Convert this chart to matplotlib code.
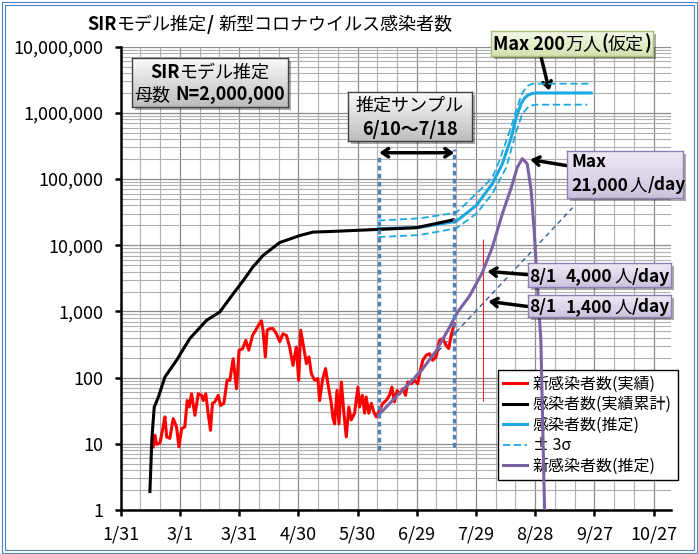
import matplotlib
matplotlib.use("Agg")
import matplotlib.pyplot as plt
import numpy as np
from matplotlib.colors import LinearSegmentedColormap
from matplotlib.patches import Rectangle
from matplotlib.ticker import FuncFormatter, FixedLocator, LogLocator, NullFormatter

plt.rcParams['font.family'] = ['Noto Sans CJK JP', 'DejaVu Sans']

W, H = 698, 554

# x values are days counted from 1/31
tick_days = [0, 30, 60, 90, 120, 150, 180, 210, 240, 270]
tick_labels = ["1/31", "3/1", "3/31", "4/30", "5/30", "6/29", "7/29", "8/28", "9/27", "10/27"]
y_ticks = [1, 10, 100, 1000, 10000, 100000, 1000000, 10000000]

# 新感染者数(実績)
new_act_day = [16.5, 17.3, 18.2, 19.9, 21.5, 22.4, 23.3, 24.9, 26.6, 28.3, 29.5, 30.9, 32.5, 33.7,
               34.7, 35.9, 37.6, 39.3, 41.0, 41.8, 43.1, 44.3, 45.5, 46.5, 47.7, 49.4, 50.6, 52.3,
               53.9, 55.3, 57.0, 58.7, 60.0, 61.7, 63.4, 64.9, 66.8, 68.4, 69.8, 71.3, 72.1, 73.3,
               74.2, 75.5, 77.2, 78.9, 80.6, 82.2, 84.0, 85.6, 87.3, 89.0, 90.2, 91.2, 92.7, 94.1,
               95.4, 96.6, 98.3, 99.9, 100.8, 102.2, 103.8, 105.0, 106.7, 107.5, 108.4, 109.6, 110.6,
               111.8, 113.1, 114.3, 115.6, 116.8, 118.5, 120.2, 121.0, 122.4, 123.6, 124.4, 125.7,
               127.0, 128.3, 129.5, 131.2, 132.8, 134.5, 136.2, 137.4, 138.7, 140.1, 141.3, 143.0,
               144.3, 145.5, 147.2, 148.9, 150.5, 151.9, 153.1, 154.8, 156.5, 158.1, 159.8, 161.5,
               163.2, 164.9, 166.2, 167.4, 169.1]
new_act = [9, 13.5, 9.8, 10.3, 18, 25.5, 12.7, 12.1, 24, 18, 9, 17, 18, 45,
           36, 57, 27, 57, 54, 45, 57, 29, 16, 41, 43, 54, 38, 41,
           91, 91, 193, 68, 260, 272, 366, 260, 434, 520, 620, 720, 520, 205,
           520, 550, 550, 460, 350, 460, 434, 290, 153, 290, 91, 520, 290, 163,
           205, 115, 91, 97, 45, 91, 137, 81, 41, 25.5, 20, 64, 20,
           86, 29, 12.7, 36, 23, 29, 72, 36, 54, 29, 51, 29,
           41, 30, 25.5, 32, 41, 45, 54, 72, 43, 64, 57, 68,
           54, 86, 81, 91, 81, 130, 183, 218, 230, 183, 205, 366,
           388, 308, 275, 434, 655]

# 感染者数(実績累計)
cum_act_day = [14.8, 15.8, 16.5, 17.0, 19.0, 22.4, 28.3, 35.0, 43.5, 50.2, 57.0, 62.0, 67.0,
               72.1, 80.6, 90.7, 97.4, 107.5, 129.5, 149.7, 166.6, 168.5]
cum_act = [1.9, 12, 23, 36, 50, 102, 183, 389, 735, 980, 1850, 2900, 4700,
           7000, 11000, 14000, 15800, 16200, 17300, 18400, 23500, 24300]

# 感染者数(推定)
est_day = [130.5, 151.4, 170.0, 180.2, 188.3, 193.4, 197.9, 200.4, 203.0, 204.5, 206.0, 208.0, 210.6, 238.4]
est = [17800, 18600, 23000, 40000, 85000, 170000, 425000, 850000, 1400000, 1650000, 1820000,
       1950000, 2000000, 2000000]

# ±3σ
hi_day = [130.5, 151.4, 170.0, 180.2, 188.3, 191.9, 198.4, 201.0, 203.5, 206.0, 208.6, 238.4]
hi = [23600, 25500, 31000, 60000, 105000, 190000, 690000, 1250000, 2000000, 2550000, 2760000, 2760000]
lo_day = [130.5, 151.4, 170.0, 180.2, 188.3, 195.4, 200.4, 203.5, 207.0, 210.6, 236.4]
lo = [13300, 14300, 18000, 30000, 60000, 150000, 520000, 970000, 1280000, 1330000, 1330000]

# 新感染者数(推定)
new_est_day = [130.5, 141.3, 151.4, 160.0, 166.6, 170.6, 176.7, 183.3, 188.3, 193.4, 197.9,
               200.9, 203.5, 206.0, 208.0, 209.5, 211.0, 212.9, 215.0]
new_est = [27, 58, 117, 258, 575, 970, 1700, 3900, 9300, 30000, 74000,
           149000, 204000, 170000, 67000, 16700, 2960, 366, 0.5]

# exponential trend (thin dashed)
fit_day = [130.5, 229.0]
fit = [27, 37000]

sample_days = [131, 169]          # 6/10, 7/18
sample_lo = [8, 9]
sample_hi = [240000, 280000]
aug1 = 183.5                      # 8/1 marker


def fx(x):
    return x / W


def fy(y):
    return 1 - y / H


fig = plt.figure(figsize=(W / 100, H / 100), dpi=100)
ax = fig.add_axes([fx(120.7), fy(510), (671.3 - 120.7) / W, (510 - 46.7) / H])

ax.set_yscale('log')
ax.set_ylim(1, 1e7)
ax.set_xlim(0, 279)

ax.set_xticks(tick_days)
ax.set_xticklabels(tick_labels)
ax.set_xticks(np.arange(0, 280, 10), minor=True)
ax.yaxis.set_major_locator(FixedLocator(y_ticks))
ax.yaxis.set_minor_locator(LogLocator(base=10, subs=np.arange(2, 10), numticks=20))
ax.yaxis.set_major_formatter(FuncFormatter(lambda v, p: f"{int(round(v)):,}"))
ax.yaxis.set_minor_formatter(NullFormatter())

ax.grid(which='major', color='#8c8c8c', lw=0.9)
ax.grid(which='minor', color='#b0b0b0', lw=0.8)
ax.set_axisbelow(True)
ax.tick_params(which='major', direction='out', length=4.5, width=1.8, labelsize=13, pad=8)
ax.tick_params(axis='x', which='major', pad=7)
ax.tick_params(which='minor', length=0)
for s in ['top', 'right']:
    ax.spines[s].set_visible(False)
for s in ['left', 'bottom']:
    ax.spines[s].set_linewidth(1.8)

blue = '#1ea8e0'
purple = '#7b62a3'
ax.plot(fit_day, fit, color='#2a4d8a', lw=0.9, ls=(0, (4, 3)), zorder=2)
l_red, = ax.plot(new_act_day, new_act, color='#ff0000', lw=2.2, zorder=3)
l_est, = ax.plot(est_day, est, color=blue, lw=2.2, zorder=4)
l_hi, = ax.plot(hi_day, hi, color=blue, lw=1.3, ls=(0, (4, 2)), zorder=4)
ax.plot(lo_day, lo, color=blue, lw=1.3, ls=(0, (4, 2)), zorder=4)
l_cum, = ax.plot(cum_act_day, cum_act, color='black', lw=2.2, zorder=5)
l_new, = ax.plot(new_est_day, new_est, color=purple, lw=2.2, zorder=6)
ax.vlines(sample_days, sample_lo, sample_hi, colors='#4f81bd', lw=2.4, linestyles=[(0, (1.4, 1))], zorder=7)
ax.vlines(aug1, 45, 12300, colors='#ff2020', lw=0.8, zorder=3)

ax.legend([l_red, l_cum, l_est, l_hi, l_new],
          ["新感染者数(実績)", "感染者数(実績累計)", "感染者数(推定)", "± 3σ", "新感染者数(推定)"],
          loc='upper left', bbox_to_anchor=(0.685, 0.302), fontsize=11.5, fancybox=False,
          edgecolor='black', framealpha=1, handlelength=1.5, borderpad=0.35,
          labelspacing=0.22, handletextpad=0.35, borderaxespad=0)
ax.get_legend().get_frame().set_linewidth(1.0)

arrow = dict(arrowstyle='->,head_length=0.45,head_width=0.3', lw=2.5, color='black',
             shrinkA=0, shrinkB=0)
ax.annotate('', xy=(169, 250000), xytext=(131, 250000), annotation_clip=False,
            arrowprops=dict(arrow, arrowstyle='<->,head_length=0.45,head_width=0.3'))
ax.annotate('', xy=(217.2, 2.16e6), xytext=(213.1, 6.8e6), annotation_clip=False, arrowprops=arrow)
ax.annotate('', xy=(207.5, 1.97e5), xytext=(225.8, 1.6e5), annotation_clip=False, arrowprops=arrow)
ax.annotate('', xy=(185.8, 4030), xytext=(206, 3600), annotation_clip=False, arrowprops=arrow)
ax.annotate('', xy=(186.3, 1420), xytext=(206, 1190), annotation_clip=False, arrowprops=arrow)


def box(x0, y0, x1, y1, top, bottom, edge, shadow=True):
    if shadow:
        fig.add_artist(Rectangle((fx(x0 + 3), fy(y1 + 3)), (x1 - x0) / W, (y1 - y0) / H,
                                 transform=fig.transFigure, fc='#00000055', ec='none', zorder=5))
    bax = fig.add_axes([fx(x0), fy(y1), (x1 - x0) / W, (y1 - y0) / H])
    bax.set_zorder(6)
    cmap = LinearSegmentedColormap.from_list('g', [top, bottom])
    bax.imshow(np.linspace(0, 1, 64)[:, None], aspect='auto', cmap=cmap, extent=(0, 1, 0, 1))
    bax.set_xticks([])
    bax.set_yticks([])
    for s in bax.spines.values():
        s.set_color(edge)
        s.set_linewidth(1.0)


def rich(x, y, parts, size=13, ha='center'):
    r = fig.canvas.get_renderer()
    txts, widths = [], []
    for s, w, gap in parts:
        t = fig.text(0, fy(y), s, fontsize=size, fontweight=w, va='baseline', ha='left', zorder=20)
        txts.append(t)
        widths.append(t.get_window_extent(r).width + gap)
    x0 = x - sum(widths) / 2 if ha == 'center' else x
    for t, w in zip(txts, widths):
        t.set_x(fx(x0))
        x0 += w


rich(87, 30, [("SIR", 'bold', 0), ("モデル推定", 'normal', 0), ("/", 'bold', 5),
              ("新型コロナウイルス感染者数", 'normal', 0)], size=13, ha='left')

box(132, 58, 288, 107, '#fbfbfb', '#bdbdbd', '#404040')
rich(210, 78, [("SIR", 'bold', 0), ("モデル推定", 'normal', 0)])
rich(210, 100, [("母数", 'normal', 5), ("N=2,000,000", 'bold', 0)])

box(348, 92, 472, 141, '#fbfbfb', '#bdbdbd', '#404040')
rich(410, 111, [("推定サンプル", 'normal', 0)])
rich(410, 135, [("6/10～7/18", 'bold', 0)])

box(491, 31, 653, 56, '#f4f8e8', '#d3e2b0', '#a9c07a')
rich(572, 49.5, [("Max 200", 'bold', 0), ("万人", 'normal', 0), ("(", 'bold', 0),
                 ("仮定", 'normal', 0), (")", 'bold', 0)])

box(567, 151, 683, 198, '#efebf5', '#cdc2dd', '#8f80b3')
rich(571, 167, [("Max", 'bold', 0)], size=12.5, ha='left')
rich(571, 190.5, [("21,000", 'bold', 2), ("人", 'normal', 0), ("/day", 'bold', 0)], size=12.5, ha='left')

box(528, 263, 671, 287, '#efebf5', '#cdc2dd', '#8f80b3')
rich(599.5, 281.7, [("8/1", 'bold', 9), ("4,000", 'bold', 2), ("人", 'normal', 0), ("/day", 'bold', 0)], size=12.5)
box(528, 295, 671, 317, '#efebf5', '#cdc2dd', '#8f80b3')
rich(599.5, 312.3, [("8/1", 'bold', 9), ("1,400", 'bold', 2), ("人", 'normal', 0), ("/day", 'bold', 0)], size=12.5)

# outer double frame
for inset in (1.5, 4.5):
    fig.add_artist(Rectangle((inset / W, inset / H), (W - 2 * inset) / W, (H - 2 * inset) / H,
                             transform=fig.transFigure, fill=False, ec='#4f81bd', lw=0.8, zorder=30))

fig.savefig('out.png', dpi=100)
